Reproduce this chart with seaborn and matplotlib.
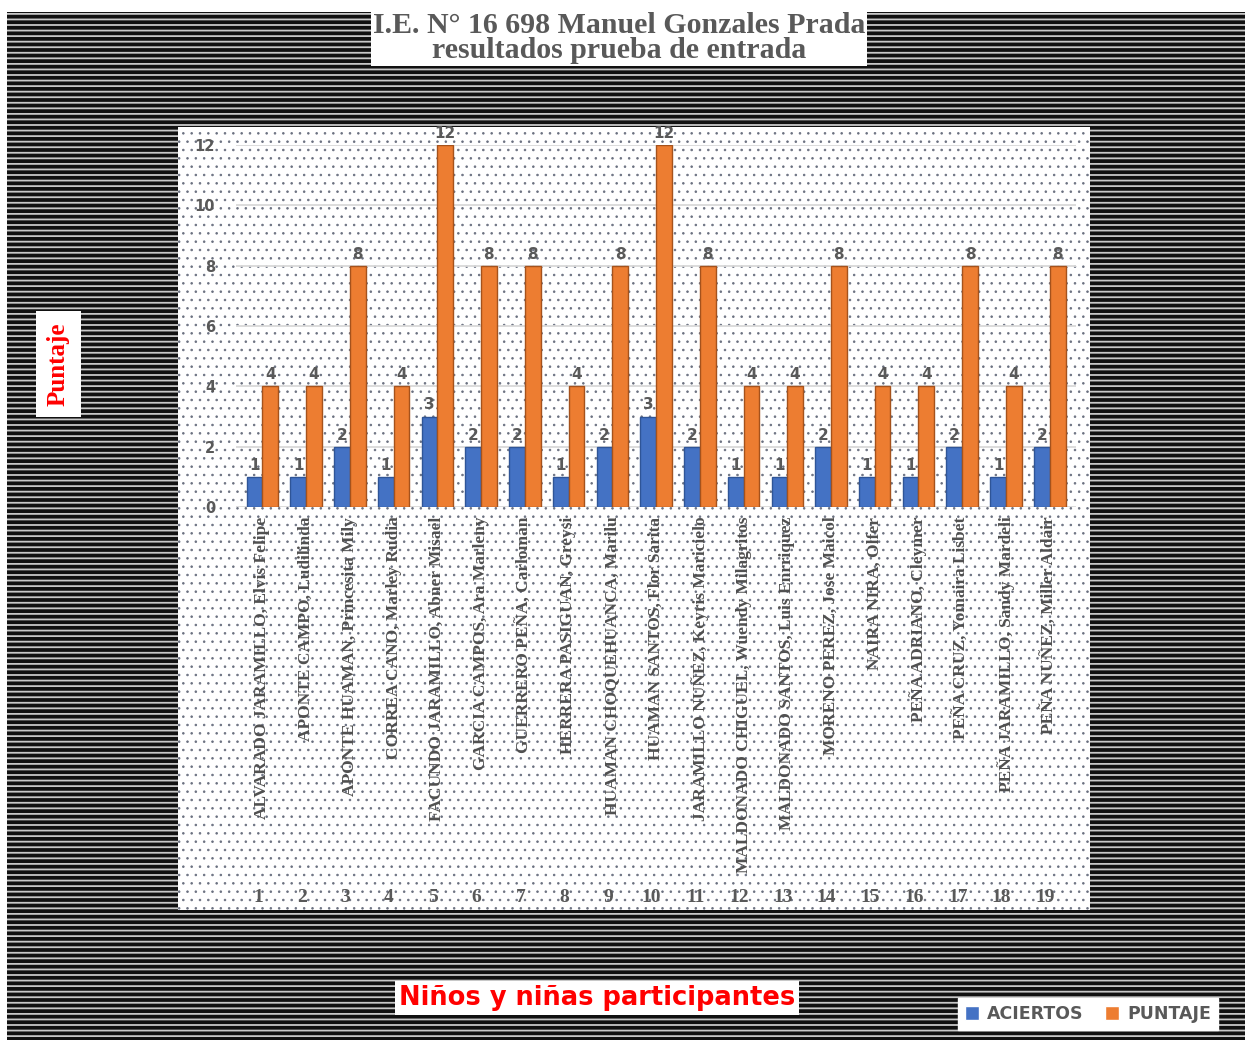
import numpy as np
import pandas as pd
import matplotlib
matplotlib.use("Agg")
import matplotlib.pyplot as plt
import matplotlib.transforms as mtransforms
from matplotlib.patches import Rectangle, Patch
import seaborn as sns

# data
numeros = [str(i) for i in range(1, 20)]
nombres = [
    "ALVARADO JARAMILLO, Elvis Felipe",
    "APONTE CAMPO, Ludilinda",
    "APONTE HUAMAN, Princesita Mily",
    "CORREA CANO, Marley Rudia",
    "FACUNDO JARAMILLO, Abner Misael",
    "GARCIA CAMPOS, Ara Marleny",
    "GUERRERO PEÑA, Carloman",
    "HERRERA PASIGUAN, Greysi",
    "HUAMAN CHOQUEHUANCA, Marilu",
    "HUAMAN SANTOS, Flor Sarita",
    "JARAMILLO NUÑEZ, Keyris Maricielo",
    "MALDONADO CHIGUEL, Wuendy Milagritos",
    "MALDONADO SANTOS, Luis Enrriquez",
    "MORENO PEREZ, Jose Maicol",
    "NAIRA NIRA, Olfer",
    "PEÑA ADRIANO, Cleymer",
    "PEÑA CRUZ, Yomaira Lisbet",
    "PEÑA JARAMILLO, Sandy Mardeli",
    "PEÑA NUÑEZ, Miller Aldair",
]
aciertos = [1, 1, 2, 1, 3, 2, 2, 1, 2, 3, 2, 1, 1, 2, 1, 1, 2, 1, 2]
puntaje = [4, 4, 8, 4, 12, 8, 8, 4, 8, 12, 8, 4, 4, 8, 4, 4, 8, 4, 8]
series = ["ACIERTOS", "PUNTAJE"]
colores = ["#4472C4", "#ED7D31"]

df = pd.DataFrame({
    "alumno": nombres * 2,
    "valor": aciertos + puntaje,
    "serie": [series[0]] * len(nombres) + [series[1]] * len(nombres),
})

sns.set_style("white")
plt.rcParams["font.family"] = ["DejaVu Sans"]
plt.rcParams["hatch.linewidth"] = 1.3

gris = "#595959"
W, H = 1252, 1043
fig = plt.figure(figsize=(W / 100, H / 100), dpi=100, facecolor="white")

# dark striped background and white dotted plot panel
fondo = Rectangle((7 / W, 1 - 1040 / H), 1238 / W, 1028 / H, transform=fig.transFigure,
                  facecolor="#111111", edgecolor="#c8c8c8", hatch="---", linewidth=0, zorder=0)
fig.add_artist(fondo)
plt.rcParams["hatch.linewidth"] = 0.6
panel = Rectangle((178 / W, 1 - 910 / H), 912 / W, 783 / H, transform=fig.transFigure,
                  facecolor="white", edgecolor="#6a7080", hatch="..", linewidth=0, zorder=0.5)
try:
    panel.set_hatch_linewidth(0.6)
    fondo.set_hatch_linewidth(1.3)
except AttributeError:
    pass
fig.add_artist(panel)

ax = fig.add_axes([236 / W, 1 - 507 / H, 840 / W, 362 / H])
ax.set_zorder(2)
ax.patch.set_alpha(0)

sns.barplot(data=df, x="alumno", y="valor", hue="serie", palette=colores,
            width=0.72, saturation=1, ax=ax, legend=False)
for cont, borde in zip(ax.containers, ["#2f5597", "#a5521c"]):
    for b in cont:
        b.set_edgecolor(borde)
        b.set_linewidth(1)
    ax.bar_label(cont, padding=3, fontsize=11, fontweight="bold", color=gris, clip_on=False)

ax.set_ylim(0, 12)
ax.set_xlim(-0.6, 18.6)
ax.set_yticks(range(0, 13, 2))
ax.tick_params(axis="y", length=0, pad=15, labelsize=10.5, labelcolor=gris)
for t in ax.get_yticklabels():
    t.set_fontweight("bold")
ax.yaxis.grid(True, color="#d9d9d9", linewidth=1.3)
ax.set_axisbelow(True)
for s in ax.spines.values():
    s.set_visible(False)

ax.tick_params(axis="x", length=0, pad=7)
ax.set_xticks(range(len(nombres)))
ax.set_xticklabels(nombres, rotation=90, fontsize=12.5, color="#505050", fontweight="bold",
                   family=["Liberation Serif"], va="top", ha="center")
ax.set_xlabel("")

# category numbers under the names
trans = mtransforms.blended_transform_factory(ax.transData, fig.transFigure)
for i, n in enumerate(numeros):
    ax.text(i - 0.1, 1 - 897 / H, n, transform=trans, ha="center", va="center",
            fontsize=14, fontweight="bold", color=gris, family=["Liberation Serif"])

ax.set_ylabel("Puntaje", fontsize=18, fontweight="bold", color="red",
              family=["Liberation Serif"],
              bbox=dict(facecolor="white", edgecolor="none", pad=8))
ax.yaxis.set_label_coords((70 - 236) / 840, (507 - 364) / 362)

fig.text(619 / W, 1 - 38 / H, "I.E. N° 16 698 Manuel Gonzales Prada\nresultados prueba de entrada",
         ha="center", va="center", fontsize=21.5, fontweight="bold", color=gris,
         family=["Liberation Serif"], linespacing=0.92,
         bbox=dict(facecolor="white", edgecolor="none", pad=1))

fig.text(597 / W, 1 - 998 / H, "Niños y niñas participantes", ha="center", va="center",
         fontsize=18.5, fontweight="bold", color="red",
         bbox=dict(facecolor="white", edgecolor="none", pad=3))

handles = [Patch(facecolor=c) for c in colores]
leg = fig.legend(handles, series, loc="center", bbox_to_anchor=(1088 / W, 1 - 1014 / H),
                 ncol=2, frameon=True, fancybox=False, handlelength=0.8, handleheight=0.8,
                 handletextpad=0.5, columnspacing=1.2, borderpad=0.4,
                 prop={"weight": "bold", "size": 12.5})
leg.get_frame().set_edgecolor("white")
leg.get_frame().set_facecolor("white")
leg.get_frame().set_alpha(1)
for t in leg.get_texts():
    t.set_color(gris)

fig.savefig("out.png", dpi=100, facecolor="white")
